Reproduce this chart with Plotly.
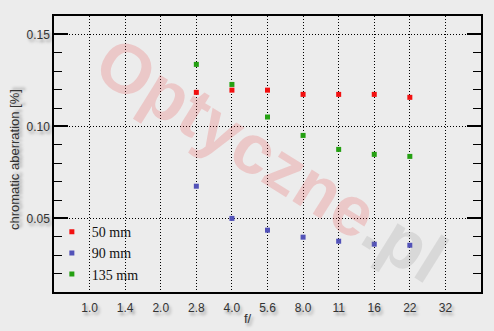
import plotly.graph_objects as go

f_stops = ["1.0", "1.4", "2.0", "2.8", "4.0", "5.6", "8.0", "11", "16", "22", "32"]
meas_stops = ["2.8", "4.0", "5.6", "8.0", "11", "16", "22"]
ca_50 = [0.1185, 0.1197, 0.1197, 0.1174, 0.1174, 0.1174, 0.1158]
ca_90 = [0.0675, 0.0500, 0.0436, 0.0398, 0.0376, 0.0360, 0.0354]
ca_135 = [0.1337, 0.1228, 0.1051, 0.0951, 0.0875, 0.0848, 0.0837]
series_names = ["50 mm", "90 mm", "135 mm"]
series_colors = ["#f21010", "#5252b8", "#24a012"]

idx = {s: i for i, s in enumerate(f_stops)}
xs = [idx[s] for s in meas_stops]

bg = "#ececec"
shadow = "2px 3px 3px rgba(0,0,0,0.35)"
dots = "1px,2px"

fig = go.Figure()
for name, vals, col in zip(series_names, [ca_50, ca_90, ca_135], series_colors):
    fig.add_trace(go.Scatter(x=xs, y=vals, mode="markers", name=name,
                             marker=dict(symbol="square", size=5, color=col,
                                         line=dict(width=0))))
# right-side axis for mirrored ticks
fig.add_trace(go.Scatter(x=[None], y=[None], yaxis="y2", showlegend=False,
                         hoverinfo="skip"))

# watermark
fig.add_annotation(xref="paper", yref="paper", x=0.51, y=0.48,
                   text="<b><span style='color:rgba(235,60,60,0.2)'>Optyczne</span>"
                        "<span style='color:rgba(140,140,140,0.2)'>.pl</span></b>",
                   showarrow=False, textangle=32,
                   font=dict(family="Liberation Sans", size=70))

fig.add_annotation(xref="paper", yref="paper", x=(248 - 54) / 427, y=-(318 - 292) / 276,
                   text="f/", showarrow=False, xanchor="center", yanchor="middle",
                   font=dict(family="Liberation Sans", size=13, color="#333", shadow=shadow))

fig.add_annotation(xref="paper", yref="paper", x=(14 - 54) / 427, y=(292 - 160) / 276,
                   text="chromatic aberration [%]", showarrow=False, textangle=-90,
                   xanchor="center", yanchor="middle",
                   font=dict(family="Liberation Sans", size=13, color="#333", shadow=shadow))

yax_common = dict(range=[0.01, 0.16], tick0=0.05, dtick=0.05,
                  ticks="inside", ticklen=14, tickwidth=1.5, tickcolor="#000",
                  minor=dict(dtick=0.01, ticks="inside", ticklen=8, tickwidth=1,
                             tickcolor="#000", showgrid=False),
                  zeroline=False)

fig.update_layout(
    width=494, height=331,
    margin=dict(l=54, r=13, t=16, b=39),
    paper_bgcolor=bg, plot_bgcolor=bg,
    showlegend=True,
    legend=dict(x=-0.005, y=0.275, xanchor="left", yanchor="top",
                bgcolor="rgba(0,0,0,0)", itemsizing="trace",
                font=dict(family="Liberation Serif", size=14, color="#111"),
                tracegroupgap=0),
    xaxis=dict(range=[-1, 11], tickmode="array", tickvals=list(range(len(f_stops))),
               ticktext=f_stops, ticks="", showgrid=True, gridcolor="#000",
               griddash=dots, gridwidth=1, zeroline=False,
               showline=True, linecolor="#000", linewidth=1.5, mirror=True,
               tickfont=dict(family="Liberation Sans", size=12, color="#333", shadow=shadow),
               ticklabelstandoff=4),
    yaxis=dict(**yax_common, tickformat=".2f",
               showgrid=True, gridcolor="#000", griddash=dots, gridwidth=1,
               showline=True, linecolor="#000", linewidth=1.5, mirror=True,
               tickfont=dict(family="Liberation Sans", size=12, color="#333", shadow=shadow)),
    yaxis2=dict(**yax_common, overlaying="y", side="right", showgrid=False,
                showticklabels=False, showline=False),
)

fig.write_html("out.html")
